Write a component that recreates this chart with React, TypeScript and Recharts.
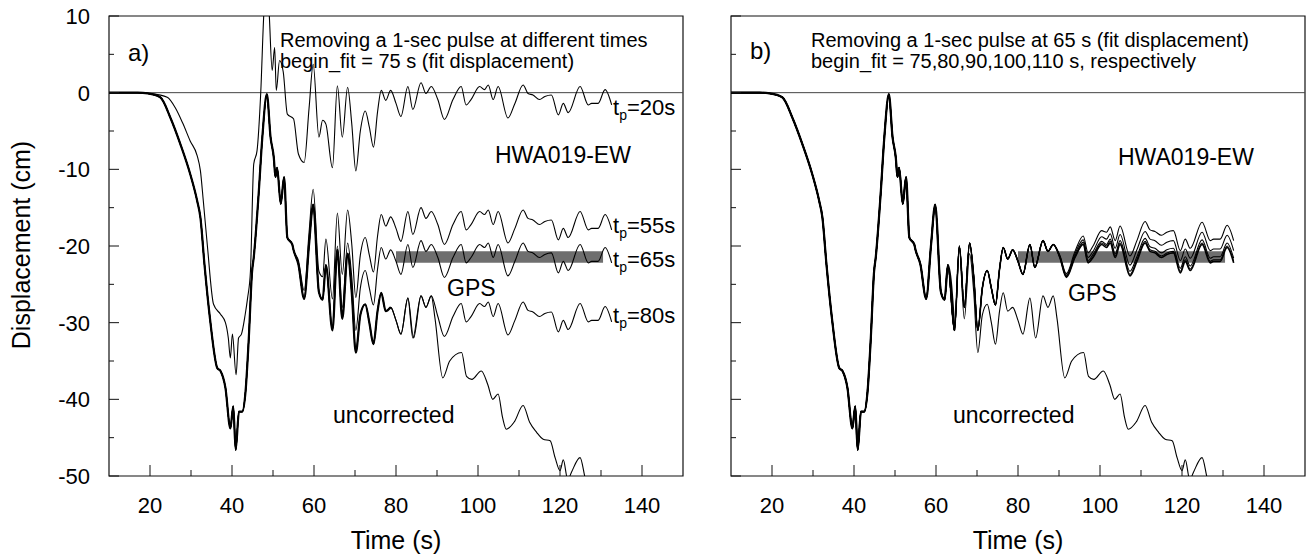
import React from "react"
import { ComposedChart, Line, Area, XAxis, YAxis, ReferenceArea, ReferenceLine } from "recharts"

// shared start of every trace (thick part), time in s, displacement in cm
const earlyT = [10, 17, 19.5, 22.5, 25, 27.4, 29.8, 31.5, 32.3, 33.3, 34.7, 36.4, 37.2, 38.4, 39.6, 40.3, 40.9, 41.7, 42.5, 43.3, 44.1, 44.9, 45.3, 46.5, 47.4, 48.5, 49.4, 50.2, 50.6, 51, 51.9, 52.7, 53.5, 54.7]
const earlyV = [0, 0, -0.1, -0.6, -3.3, -6.7, -10.6, -14.1, -16.3, -22.5, -29.8, -35.9, -36.3, -38.5, -43.8, -40.9, -46.6, -41.6, -41.6, -39, -32, -23.3, -21.5, -13.2, -5.8, -0.2, -5.8, -8.5, -11, -9.8, -14.5, -11, -18.9, -19.8]

// tp = 20 s trace leaves the others early
const tp20EarlyT = [10, 17, 20, 24.2, 26.2, 28, 29.8, 31.5, 32.3, 33, 34, 35.5, 37.2, 38.4, 39.1, 39.6, 40.1, 41, 41.6, 42.3, 43.2, 43.8, 44.5, 45.3, 46.1, 47, 47.8, 48.4, 49, 49.8, 50.4, 50.8, 51.6, 52.5, 53.5]
const tp20EarlyV = [0, 0, -0.1, -0.6, -2, -4, -6.3, -8.2, -10.2, -14.1, -20, -27.6, -28.9, -30, -32, -34.6, -31.5, -36.8, -32, -31.5, -29, -26.8, -23.3, -9.3, -7.6, -0.1, 10.7, 14, 11, 2.9, 5.9, 0.3, 4.2, 2.7, -2.8]

// 55 - 80 s
const midT = [55, 56.2, 57.6, 58.8, 59.8, 61.2, 62.1, 62.9, 64.5, 65.7, 66.9, 68.2, 69.2, 70.2, 71.3, 72.5, 73.5, 74.5, 75.5, 76.4, 77.5, 78.7]
const uncorrMidV = [-20.5, -22.4, -26.9, -19.8, -14.6, -26, -27, -22.5, -31, -20.5, -29.5, -21, -26, -33.9, -29, -27.6, -30, -32.8, -28.5, -26.1, -28.5, -28]
const tp20MidV = [-3.4, -8, -9.1, -2, 3.7, -5.8, -3.6, -4.1, -9.8, 0.9, -5.8, 0.7, -4, -10.2, -5, -2.4, -4.5, -7.1, -2.5, 0.3, -1, 0.3]
const tp55MidV = [-20.5, -21.9, -25.8, -18.2, -12.6, -23.3, -24, -19.1, -26.9, -15.7, -23.7, -15.3, -19.7, -26.7, -21.2, -18.9, -21.2, -23.4, -18.7, -15.9, -17.4, -16.2]
const tp65MidV = [-20.5, -22.4, -26.9, -19.8, -14.6, -26, -27, -22.5, -31, -20, -28, -19.6, -24, -31, -25.5, -23.2, -25.5, -27.7, -23, -20.2, -21.7, -20.5]

// 80 s to the end
const lateT = [80, 81.2, 82.9, 84.1, 86.1, 87.3, 88.6, 90.2, 91.8, 93.9, 95.9, 97.1, 98.3, 100.4, 101.6, 102.5, 103.7, 104.9, 107.3, 109, 111, 112.2, 113.4, 115, 116.3, 117.9, 119.6, 120.8, 122, 124.9, 126.9, 127.7, 129.3, 131, 132.6]
const tp20LateV = [-1.4, -3.1, 0.8, -2.2, 1.3, -0.1, 0.8, -0.9, -3.5, -0.9, 0.8, -1.6, -0.9, 0.8, 0.4, 1, -0.9, 0.8, -3.3, -1.4, 1, -0.1, -0.3, -0.9, -0.5, -0.3, -2.9, -1.4, -2.6, 0.8, -1.6, -1.4, -1.4, 0.4, -1.6]
const tp55LateV = [-17.7, -19.4, -15.5, -18.5, -15, -16.4, -15.5, -17.2, -19.8, -17.2, -15.5, -17.9, -17.2, -15.5, -15.9, -15.3, -17.2, -15.5, -19.6, -17.7, -15.3, -16.4, -16.6, -17.2, -16.8, -16.6, -19.2, -17.7, -18.9, -15.5, -17.9, -17.7, -17.7, -15.9, -17.9]
const tp65LateV = [-22, -23.7, -19.8, -22.8, -19.3, -20.7, -19.8, -21.5, -24.1, -21.5, -19.8, -22.2, -21.5, -19.8, -20.2, -19.6, -21.5, -19.8, -23.9, -22, -19.6, -20.7, -20.9, -21.5, -21.1, -20.9, -23.5, -22, -23.2, -19.8, -22.2, -22, -22, -20.2, -22.2]
const tp80LateV = [-29.7, -31.5, -26.8, -32, -26.5, -28, -26.5, -29.2, -31.8, -29.2, -27.5, -29.9, -29.2, -27.5, -27.9, -27.3, -29.2, -27.5, -31.6, -29.7, -27.3, -28.4, -28.6, -29.2, -28.8, -28.6, -31.2, -29.7, -30.9, -27.5, -29.9, -29.7, -29.7, -27.9, -29.9]
const fit80LateV = [-22, -23.7, -19.8, -22.8, -19.3, -20.7, -19.8, -21.5, -24, -21.4, -19.7, -22.1, -21.4, -19.6, -20, -19.4, -21.3, -19.6, -23.7, -21.8, -19.4, -20.5, -20.7, -21.3, -20.9, -20.7, -23.3, -21.8, -23, -19.6, -22, -21.8, -21.8, -20, -22]
const fit90LateV = [-22, -23.7, -19.8, -22.8, -19.3, -20.7, -19.8, -21.4, -23.9, -21.3, -19.5, -21.9, -21.1, -19.4, -19.8, -19.1, -21, -19.3, -23.3, -21.4, -19, -20.1, -20.3, -20.9, -20.5, -20.3, -22.9, -21.4, -22.6, -19.2, -21.6, -21.4, -21.4, -19.6, -21.6]
const fit100LateV = [-22, -23.7, -19.8, -22.8, -19.3, -20.7, -19.8, -21.3, -23.8, -21, -19.2, -21.5, -20.7, -18.8, -19.1, -18.4, -20.3, -18.5, -22.5, -20.5, -18.1, -19.1, -19.3, -19.9, -19.5, -19.3, -21.9, -20.4, -21.6, -18.2, -20.6, -20.4, -20.4, -18.6, -20.6]
const fit110LateV = [-22, -23.7, -19.8, -22.8, -19.3, -20.7, -19.8, -21.2, -23.6, -20.7, -18.7, -20.9, -20, -18, -18.2, -17.5, -19.3, -17.4, -21.3, -19.3, -16.8, -17.9, -18.1, -18.6, -18.2, -18, -20.6, -19.1, -20.3, -16.9, -19.3, -19.1, -19.1, -17.3, -19.3]

// uncorrected record drifts away
const uncorrLateT = [80, 81.2, 82.9, 84.3, 86.1, 87.3, 88.6, 89.5, 91.4, 93.1, 96, 97.2, 98.5, 100.8, 102.4, 103.6, 104.9, 106, 106.9, 108.9, 111, 112.6, 114.3, 115.9, 117.6, 118.8, 120, 120.8, 121.9, 122.8, 124.9, 126.1, 127.5]
const uncorrLateV = [-29.7, -31.5, -26.8, -32, -26.5, -28, -26.5, -29.4, -37.2, -35, -33.9, -37, -37.4, -36.3, -38.1, -40, -39.3, -42.4, -43.9, -42.9, -40.8, -43, -44.3, -45.2, -45.4, -47.6, -49.3, -47.9, -50.5, -49.5, -47.6, -50.2, -53]

// GPS static offset band
const gpsT = [80, 130.5]
const gpsLow = -22.2
const gpsHigh = -20.7

const xTicks = [20, 30, 40, 50, 60, 70, 80, 90, 100, 110, 120, 130, 140]
const yTicks = [-50, -45, -40, -35, -30, -25, -20, -15, -10, -5, 0, 5, 10]

const zip = (t: number[], v: number[]) => t.map((x, i) => ({ t: x, v: v[i] }))

const gpsBand = gpsT.map((t) => ({ t, r: [gpsLow, gpsHigh] }))
const sharedA = zip([...earlyT, ...midT], [...earlyV, ...uncorrMidV])
const sharedB = zip([...earlyT, ...midT.slice(0, 9)], [...earlyV, ...uncorrMidV.slice(0, 9)])
const tp20 = zip([...tp20EarlyT, ...midT, ...lateT], [...tp20EarlyV, ...tp20MidV, ...tp20LateV])
const tp55 = zip([...earlyT, ...midT, ...lateT], [...earlyV, ...tp55MidV, ...tp55LateV])
const tp65 = zip([...earlyT, ...midT, ...lateT], [...earlyV, ...tp65MidV, ...tp65LateV])
const tp80 = zip([...earlyT, ...midT, ...lateT], [...earlyV, ...uncorrMidV, ...tp80LateV])
const fit80 = zip([...earlyT, ...midT, ...lateT], [...earlyV, ...tp65MidV, ...fit80LateV])
const fit90 = zip([...earlyT, ...midT, ...lateT], [...earlyV, ...tp65MidV, ...fit90LateV])
const fit100 = zip([...earlyT, ...midT, ...lateT], [...earlyV, ...tp65MidV, ...fit100LateV])
const fit110 = zip([...earlyT, ...midT, ...lateT], [...earlyV, ...tp65MidV, ...fit110LateV])
const uncorrected = zip([...earlyT, ...midT, ...uncorrLateT], [...earlyV, ...uncorrMidV, ...uncorrLateV])

const font = '"Liberation Sans", Arial, Helvetica, sans-serif'

const YTick = (props: any) => {
  const { x, y, payload, showLabel } = props
  const major = payload.value % 10 === 0
  return (
    <g>
      <line x1={x} x2={x + (major ? 10 : 5)} y1={y} y2={y} stroke="#111" strokeWidth={1} />
      {major && showLabel && (
        <text x={x - 19} y={y + 8} textAnchor="end" fontSize={22} fontFamily={font} fill="#000">
          {payload.value}
        </text>
      )}
    </g>
  )
}

const XTick = (props: any) => {
  const { x, y, payload } = props
  const major = payload.value % 20 === 0
  return (
    <g>
      <line x1={x} x2={x} y1={y} y2={y - (major ? 11 : 6)} stroke="#111" strokeWidth={1} />
      {major && (
        <text x={x} y={y + 37} textAnchor="middle" fontSize={22} fontFamily={font} fill="#000">
          {payload.value}
        </text>
      )}
    </g>
  )
}

const trace = (key: string, data: { t: number; v: number }[], width = 1.1) => (
  <Line
    key={key}
    data={data}
    dataKey="v"
    type="monotone"
    stroke="#000"
    strokeWidth={width}
    dot={false}
    activeDot={false}
    isAnimationActive={false}
  />
)

const Panel = ({ left, width, marginLeft, marginRight, labels, children }: any) => (
  <div style={{ position: "absolute", left, top: 0 }}>
    <ComposedChart width={width} height={558} margin={{ top: 16, right: marginRight, bottom: 42, left: marginLeft }}>
      <XAxis
        dataKey="t"
        type="number"
        domain={[10, 150]}
        allowDataOverflow
        ticks={xTicks}
        interval={0}
        tickSize={0}
        tickMargin={0}
        axisLine={false}
        tickLine={false}
        height={40}
        tick={(p: any) => <XTick {...p} />}
      />
      <YAxis
        type="number"
        domain={[-50, 10]}
        allowDataOverflow
        ticks={yTicks}
        interval={0}
        tickSize={0}
        tickMargin={0}
        axisLine={false}
        tickLine={false}
        width={60}
        tick={(p: any) => <YTick {...p} showLabel={labels} />}
      />
      <ReferenceLine y={0} stroke="#444" strokeWidth={1} />
      <Area
        data={gpsBand}
        dataKey="r"
        type="linear"
        stroke="none"
        fill="#6e6e6e"
        fillOpacity={1}
        dot={false}
        activeDot={false}
        isAnimationActive={false}
      />
      {children}
      <ReferenceArea x1={10} x2={150} y1={-50} y2={10} fill="none" stroke="#111" strokeWidth={1.2} />
    </ComposedChart>
  </div>
)

const TpLabel = ({ x, y, value }: { x: number; y: number; value: string }) => (
  <text x={x} y={y} fontSize={22} fontFamily={font} fill="#000">
    t
    <tspan fontSize={14} dy={5}>p</tspan>
    <tspan dy={-5}>={value}s</tspan>
  </text>
)

export default function App() {
  return (
    <div style={{ position: "absolute", left: 0, top: 0, width: 1307, height: 558, background: "#fff", fontFamily: font }}>
      <Panel left={0} width={700} marginLeft={49} marginRight={17} labels>
        {trace("sharedA", sharedA, 2.2)}
        {trace("tp20", tp20)}
        {trace("tp55", tp55)}
        {trace("tp65", tp65)}
        {trace("tp80", tp80)}
        {trace("uncorrected", uncorrected)}
      </Panel>
      <Panel left={660} width={647} marginLeft={11} marginRight={2} labels={false}>
        {trace("sharedB", sharedB, 2.2)}
        {trace("fit75", tp65, 1.6)}
        {trace("fit80", fit80)}
        {trace("fit90", fit90)}
        {trace("fit100", fit100)}
        {trace("fit110", fit110)}
        {trace("uncorrected", uncorrected)}
      </Panel>
      <svg width={1307} height={558} style={{ position: "absolute", left: 0, top: 0, pointerEvents: "none" }}>
        <g fontFamily={font} fill="#000">
          <text x={128} y={61} fontSize={24}>a)</text>
          <text x={280} y={47} fontSize={20}>Removing a 1-sec pulse at different times</text>
          <text x={280} y={68} fontSize={20}>begin_fit = 75 s (fit displacement)</text>
          <text x={495} y={163} fontSize={23}>HWA019-EW</text>
          <TpLabel x={613} y={115} value="20" />
          <TpLabel x={613} y={233} value="55" />
          <TpLabel x={613} y={267} value="65" />
          <TpLabel x={613} y={323} value="80" />
          <text x={447} y={296} fontSize={23}>GPS</text>
          <text x={333} y={423} fontSize={23}>uncorrected</text>
          <text x={396} y={549} fontSize={25} textAnchor="middle">Time (s)</text>
          <text transform="translate(30,245) rotate(-90)" fontSize={25} textAnchor="middle">Displacement (cm)</text>

          <text x={750} y={59} fontSize={24}>b)</text>
          <text x={811} y={47} fontSize={20}>Removing a 1-sec pulse at 65 s (fit displacement)</text>
          <text x={811} y={68} fontSize={20}>begin_fit = 75,80,90,100,110 s, respectively</text>
          <text x={1118} y={165} fontSize={23}>HWA019-EW</text>
          <text x={1068} y={301} fontSize={23}>GPS</text>
          <text x={953} y={423} fontSize={23}>uncorrected</text>
          <text x={1018} y={549} fontSize={25} textAnchor="middle">Time (s)</text>
        </g>
      </svg>
    </div>
  )
}
